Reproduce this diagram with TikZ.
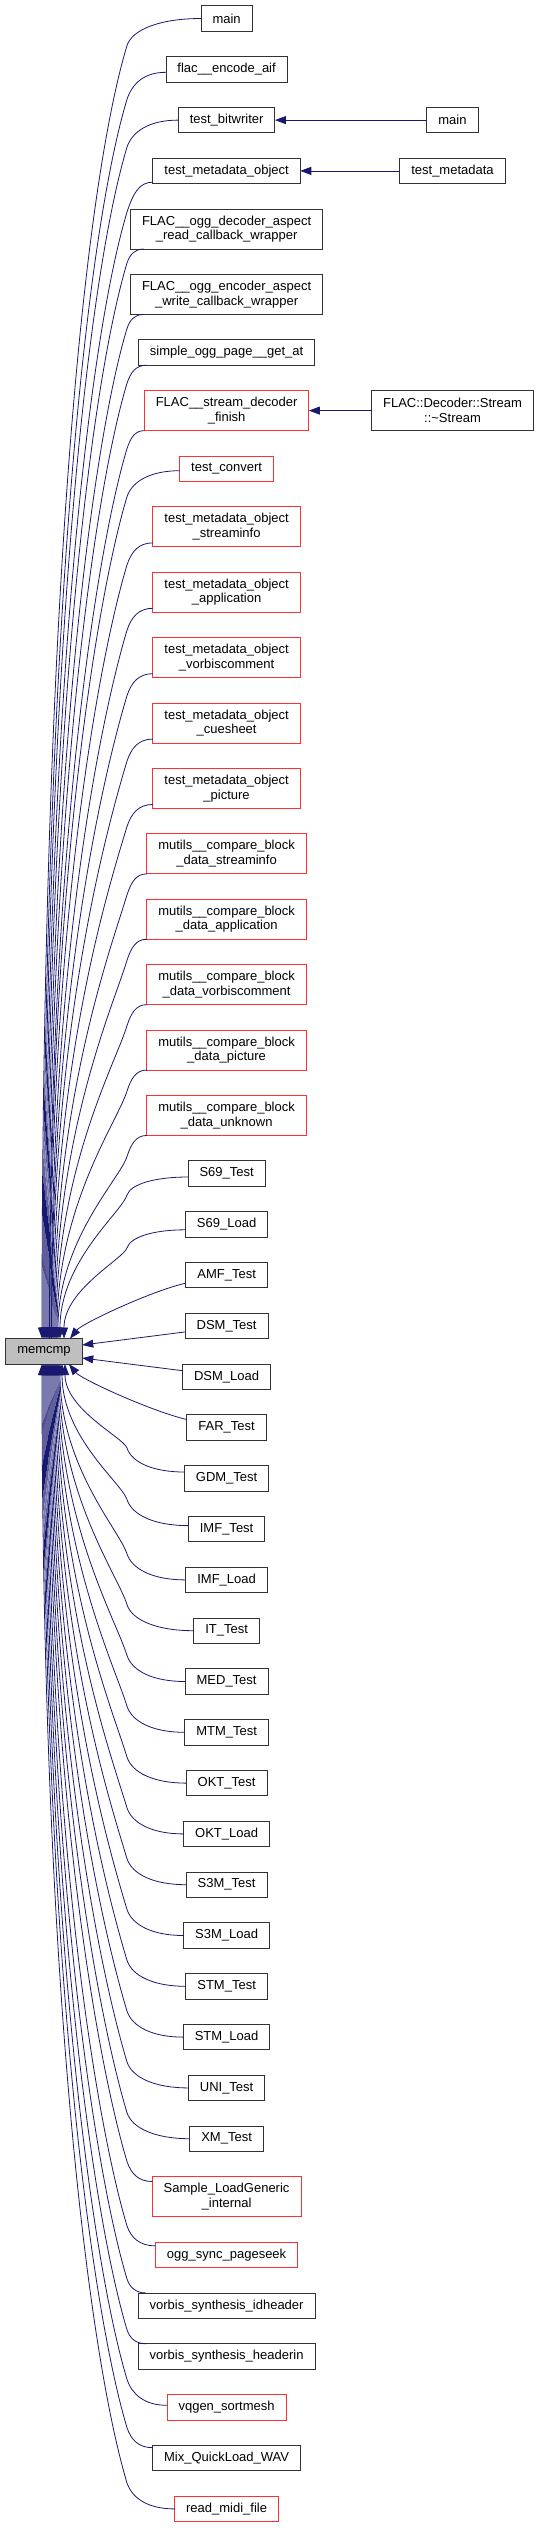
\documentclass[tikz,border=0pt]{standalone}
\usepackage{fontspec}
\setmainfont{Liberation Sans}
\usepackage{tikz}
\usetikzlibrary{arrows.meta,positioning,calc}
\definecolor{cgedge}{HTML}{191970}
\definecolor{cgred}{HTML}{FF3030}
\definecolor{cggray}{HTML}{BFBFBF}
\definecolor{cgline}{HTML}{333333}
\newcommand{\cgfont}{\fontsize{13pt}{14.7pt}\selectfont}
% caller above / below the focus node: turn at x=127, then run into memcmp
\newcommand{\callup}[3]{%
  \draw[call] let \p1=(#1), \p2=([xshift=#3]memcmp.north), \n1={\y1-#2-\y2} in
    (\p1) .. controls ({\x1-0.55*(\x1-127pt)},\y1) and ({127pt+0.2*#2},{\y1-0.4*#2}) .. (127pt,{\y1-#2})
    .. controls ({127pt-0.036*\n1},{\y1-#2-0.12*\n1}) and (\x2,{\y2+0.54*\n1}) .. (\p2);}
\newcommand{\calldown}[3]{%
  \draw[call] let \p1=(#1), \p2=([xshift=#3]memcmp.south), \n1={\y2-\y1-#2} in
    (\p1) .. controls ({\x1-0.55*(\x1-127pt)},\y1) and ({127pt+0.2*#2},{\y1+0.4*#2}) .. (127pt,{\y1+#2})
    .. controls ({127pt-0.036*\n1},{\y1+#2+0.12*\n1}) and (\x2,{\y2-0.54*\n1}) .. (\p2);}
\tikzset{
  fn/.style={draw=cgline,line width=0.9pt,fill=white,font=\cgfont,align=center,inner xsep=11.5pt,inner ysep=0pt,outer sep=0pt,minimum height=25.5pt},
  fntwo/.style={fn,minimum height=40.1pt},
  fnred/.style={fn,draw=cgred},
  fntwored/.style={fntwo,draw=cgred},
  fnfocus/.style={fn,fill=cggray},
  call/.style={-{Triangle[length=11pt,width=8pt]},draw=cgedge,line width=0.8pt},
}
\begin{document}
\begin{tikzpicture}[x=1pt,y=1pt,node distance=25.3pt]
  \useasboundingbox (0,0) rectangle (539,-2528);
  \coordinate (col0) at (44,0);
  \coordinate (col2) at (452.5,0);

  \node[fn] (mainfn) at (226.6,-18.5) {main};
  \node[fn,below=of mainfn] (encaif) {flac\_\_encode\_aif};
  \node[fn,below=of encaif] (bitwriter) {test\_bitwriter};
  \node[fn,below=of bitwriter] (mdobj) {test\_metadata\_object};
  \node[fntwo,below=of mdobj] (oggdecrd) {FLAC\_\_ogg\_decoder\_aspect\\\_read\_callback\_wrapper};
  \node[fntwo,below=of oggdecrd] (oggencwr) {FLAC\_\_ogg\_encoder\_aspect\\\_write\_callback\_wrapper};
  \node[fn,below=of oggencwr] (oggpage) {simple\_ogg\_page\_\_get\_at};
  \node[fntwored,below=of oggpage] (decfinish) {FLAC\_\_stream\_decoder\\\_finish};
  \node[fnred,below=of decfinish] (convert) {test\_convert};
  \node[fntwored,below=of convert] (mdsinfo) {test\_metadata\_object\\\_streaminfo};
  \node[fntwored,below=of mdsinfo] (mdapp) {test\_metadata\_object\\\_application};
  \node[fntwored,below=of mdapp] (mdvorbis) {test\_metadata\_object\\\_vorbiscomment};
  \node[fntwored,below=of mdvorbis] (mdcue) {test\_metadata\_object\\\_cuesheet};
  \node[fntwored,below=of mdcue] (mdpic) {test\_metadata\_object\\\_picture};
  \node[fntwored,below=of mdpic] (mustream) {mutils\_\_compare\_block\\\_data\_streaminfo};
  \node[fntwored,below=of mustream] (muapp) {mutils\_\_compare\_block\\\_data\_application};
  \node[fntwored,below=of muapp] (muvorbis) {mutils\_\_compare\_block\\\_data\_vorbiscomment};
  \node[fntwored,below=of muvorbis] (mupic) {mutils\_\_compare\_block\\\_data\_picture};
  \node[fntwored,below=of mupic] (muunknown) {mutils\_\_compare\_block\\\_data\_unknown};
  \node[fn,below=of muunknown] (s69test) {S69\_Test};
  \node[fn,below=of s69test] (s69load) {S69\_Load};
  \node[fn,below=of s69load] (amftest) {AMF\_Test};
  \node[fn,below=of amftest] (dsmtest) {DSM\_Test};
  \node[fn,below=of dsmtest] (dsmload) {DSM\_Load};
  \node[fn,below=of dsmload] (fartest) {FAR\_Test};
  \node[fn,below=of fartest] (gdmtest) {GDM\_Test};
  \node[fn,below=of gdmtest] (imftest) {IMF\_Test};
  \node[fn,below=of imftest] (imfload) {IMF\_Load};
  \node[fn,below=of imfload] (ittest) {IT\_Test};
  \node[fn,below=of ittest] (medtest) {MED\_Test};
  \node[fn,below=of medtest] (mtmtest) {MTM\_Test};
  \node[fn,below=of mtmtest] (okttest) {OKT\_Test};
  \node[fn,below=of okttest] (oktload) {OKT\_Load};
  \node[fn,below=of oktload] (s3mtest) {S3M\_Test};
  \node[fn,below=of s3mtest] (s3mload) {S3M\_Load};
  \node[fn,below=of s3mload] (stmtest) {STM\_Test};
  \node[fn,below=of stmtest] (stmload) {STM\_Load};
  \node[fn,below=of stmload] (unitest) {UNI\_Test};
  \node[fn,below=of unitest] (xmtest) {XM\_Test};
  \node[fntwored,below=of xmtest] (sampleload) {Sample\_LoadGeneric\\\_internal};
  \node[fnred,below=of sampleload] (oggseek) {ogg\_sync\_pageseek};
  \node[fn,below=of oggseek] (vsidheader) {vorbis\_synthesis\_idheader};
  \node[fn,below=of vsidheader] (vsheaderin) {vorbis\_synthesis\_headerin};
  \node[fnred,below=of vsheaderin] (vqsort) {vqgen\_sortmesh};
  \node[fn,below=of vqsort] (mixwav) {Mix\_QuickLoad\_WAV};
  \node[fnred,below=of mixwav] (readmidi) {read\_midi\_file};

  \node[fn] (mainbw) at (bitwriter -| col2) {main};
  \node[fn] (testmd) at (mdobj -| col2) {test\_metadata};
  \node[fntwo] (decstream) at (decfinish -| col2) {FLAC::Decoder::Stream\\::\textasciitilde Stream};

  \coordinate (mid) at ($(dsmtest.south)!0.5!(dsmload.north)$);
  \node[fnfocus] (memcmp) at (mid -| col0) {memcmp};

  \draw[call] (mainbw) -- (bitwriter);
  \draw[call] (testmd) -- (mdobj);
  \draw[call] (decstream) -- (decfinish);

  \callup{mainfn.west}{27pt}{-2pt}
  \callup{[yshift=-3pt]encaif.west}{27pt}{-1pt}
  \callup{bitwriter.west}{27pt}{0pt}
  \callup{[yshift=1.5pt]mdobj.south west}{30pt}{1pt}
  \callup{[xshift=13pt]oggdecrd.south west}{14pt}{2pt}
  \callup{[xshift=13pt]oggencwr.south west}{14pt}{3pt}
  \callup{[xshift=8pt]oggpage.south west}{18pt}{4pt}
  \callup{decfinish.south west}{18pt}{5pt}
  \callup{[yshift=-2pt]convert.west}{26pt}{5.5pt}
  \callup{[yshift=4pt]mdsinfo.south west}{22pt}{6pt}
  \callup{[yshift=4pt]mdapp.south west}{22pt}{7pt}
  \callup{[yshift=4pt]mdvorbis.south west}{22pt}{7.5pt}
  \callup{[yshift=4pt]mdcue.south west}{22pt}{8pt}
  \callup{[yshift=4pt]mdpic.south west}{22pt}{9pt}
  \callup{mustream.south west}{21pt}{10pt}
  \callup{muapp.south west}{21pt}{11pt}
  \callup{muvorbis.south west}{21pt}{12pt}
  \callup{mupic.south west}{21pt}{13pt}
  \callup{muunknown.south west}{21pt}{14pt}
  \callup{[yshift=-3.5pt]s69test.west}{18pt}{16pt}
  \callup{[yshift=-5.5pt]s69load.west}{18pt}{20pt}
  \draw[call] ([yshift=-8pt]amftest.west) .. controls +(-35,-8) and +(12,15) .. ([xshift=26pt]memcmp.north);
  \draw[call] ([yshift=-6pt]dsmtest.west) -- ([yshift=6.3pt]memcmp.east);
  \draw[call] ([yshift=6pt]dsmload.west) -- ([yshift=-6.7pt]memcmp.east);
  \draw[call] ([yshift=8pt]fartest.west) .. controls +(-35,8) and +(12,-15) .. ([xshift=25pt]memcmp.south);
  \calldown{[yshift=6.3pt]gdmtest.west}{24pt}{21pt}
  \calldown{[yshift=3.5pt]imftest.west}{26pt}{18pt}
  \calldown{imfload.west}{26pt}{16pt}
  \calldown{ittest.west}{26pt}{15pt}
  \calldown{medtest.west}{26pt}{14pt}
  \calldown{mtmtest.west}{26pt}{13pt}
  \calldown{okttest.west}{26pt}{12pt}
  \calldown{oktload.west}{26pt}{11pt}
  \calldown{s3mtest.west}{26pt}{10pt}
  \calldown{s3mload.west}{26pt}{9pt}
  \calldown{stmtest.west}{26pt}{8pt}
  \calldown{stmload.west}{26pt}{7pt}
  \calldown{unitest.west}{26pt}{6pt}
  \calldown{xmtest.west}{26pt}{5pt}
  \calldown{[yshift=-4.7pt]sampleload.north west}{20pt}{4pt}
  \calldown{[yshift=-3.7pt]oggseek.north west}{20pt}{3pt}
  \calldown{[xshift=8pt]vsidheader.north west}{14pt}{2pt}
  \calldown{[xshift=8pt]vsheaderin.north west}{14pt}{1pt}
  \calldown{[yshift=2pt]vqsort.west}{26pt}{0pt}
  \calldown{[yshift=-2.3pt]mixwav.north west}{20pt}{-1pt}
  \calldown{readmidi.west}{26pt}{-2pt}
\end{tikzpicture}
\end{document}
